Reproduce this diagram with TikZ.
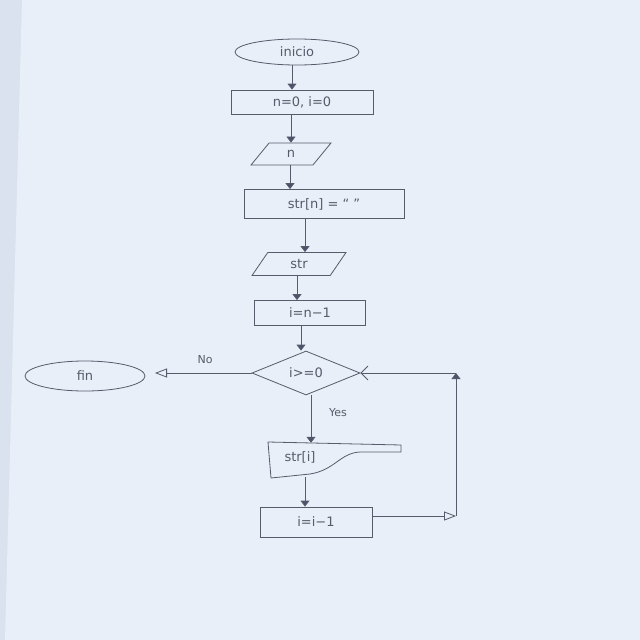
\documentclass[tikz,border=0pt]{standalone}
\usepackage{fontspec}
\setmainfont{DejaVu Sans}
\usetikzlibrary{shapes.geometric,arrows.meta}
\definecolor{paper}{HTML}{E8EFF8}
\definecolor{edgec}{HTML}{D9E2EE}
\definecolor{pencil}{HTML}{555C6B}
\definecolor{tipc}{HTML}{4A536A}
\tikzset{
  every node/.style={text=pencil, font=\fontsize{13}{15}\selectfont},
  ln/.style={draw=pencil, line width=0.8pt},
  procbox/.style={ln, rectangle, inner sep=0pt},
  term/.style={ln, ellipse, inner sep=0pt},
  iobox/.style={ln, trapezium, trapezium left angle=65, trapezium right angle=115, trapezium stretches=true, inner sep=0pt},
  decis/.style={ln, diamond, aspect=2.3, inner sep=0pt},
  fwd/.style={ln, -{Triangle[width=9pt,length=6pt,fill=tipc]}},
  opn/.style={ln, -{Triangle[open,width=9pt,length=12pt]}},
  barb/.style={ln, -{Straight Barb[width=14pt,length=7pt]}},
  lbl/.style={text=pencil, font=\fontsize{11}{13}\selectfont},
}
\begin{document}
\begin{tikzpicture}[x=1pt,y=-1pt]
\fill[edgec] (0,0) rectangle (640,640);
\fill[paper] (22,0) -- (640,0) -- (640,640) -- (5,640) -- cycle;
\useasboundingbox (0,0) rectangle (640,640);

\node[term, minimum width=124pt, minimum height=26pt] (ini) at (297,52) {inicio};
\node[procbox, minimum width=142pt, minimum height=24pt] (b1) at (302,102) {n=0, i=0};
\node[iobox, minimum width=80pt, minimum height=22pt] (n) at (291,154) {n};
\node[procbox, minimum width=160pt, minimum height=29pt] (b2) at (324,204) {str[n] = “ ”};
\node[iobox, minimum width=94pt, minimum height=23pt] (s) at (299,264) {str};
\node[procbox, minimum width=111pt, minimum height=25pt] (b3) at (310,313) {i=n−1};
\node[decis, minimum width=108pt, minimum height=44pt] (d) at (306,373) {i>=0};
\node[term, minimum width=120pt, minimum height=30pt] (fin) at (85,376) {fin};
\node[minimum width=130pt, minimum height=34pt, inner sep=0pt] (di) at (320,460) {};
\node at (300,457) {str[i]};
\draw[ln] (268,442) -- (401,445) -- (401,452) -- (360,452)
  .. controls (340,453) and (335,470) .. (310,474) -- (271,478) -- cycle;
\node[procbox, minimum width=112pt, minimum height=30pt] (b4) at (316,522) {i=i−1};
\coordinate (cr) at (456,516);
\coordinate (ct) at (456,373);
\coordinate (fe) at (155,373);

\draw[fwd] (ini.south -| 292,0) -- (b1.north -| 292,0);
\draw[fwd] (b1.south -| 291,0) -- (n.north -| 291,0);
\draw[fwd] (n.south -| 290,0) -- (b2.north -| 290,0);
\draw[fwd] (b2.south -| 305,0) -- (s.north -| 305,0);
\draw[fwd] (s.south -| 297,0) -- (b3.north -| 297,0);
\draw[fwd] (b3.south -| 301,0) -- (d.north -| 301,0);
\draw[opn] (d.west) -- (fe);
\node[lbl] at (205,360) {No};
\draw[fwd] (d.south -| 311,0) -- (di.north -| 311,0);
\node[lbl] at (338,413) {Yes};
\draw[fwd] (di.south -| 305,0) -- (b4.north -| 305,0);
\draw[opn] (b4.east |- cr) -- (cr);
\draw[fwd] (cr) -- (ct);
\draw[barb] (ct) -- (d.east);
\end{tikzpicture}
\end{document}
